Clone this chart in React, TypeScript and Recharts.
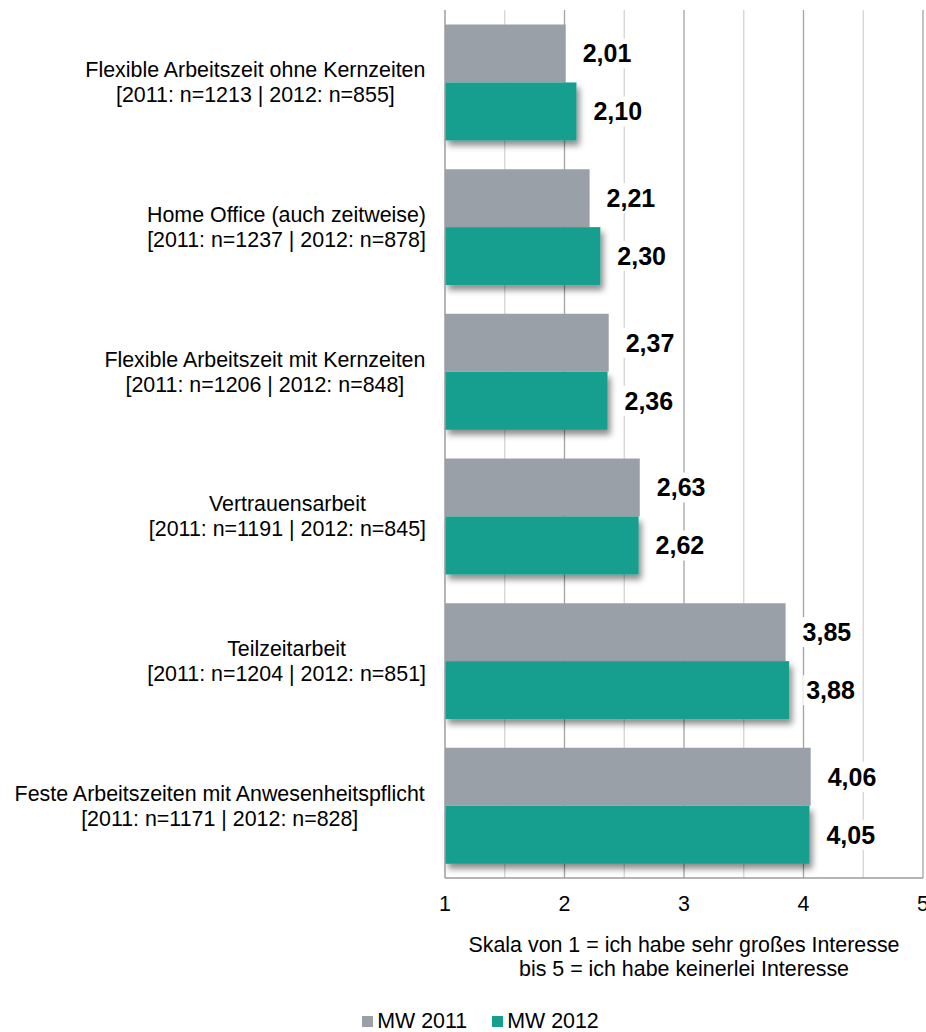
import React from 'react';
import { BarChart, Bar, XAxis, YAxis, CartesianGrid, Legend, LabelList } from 'recharts';

const categories = [
  'Flexible Arbeitszeit ohne Kernzeiten',
  'Home Office (auch zeitweise)',
  'Flexible Arbeitszeit mit Kernzeiten',
  'Vertrauensarbeit',
  'Teilzeitarbeit',
  'Feste Arbeitszeiten mit Anwesenheitspflicht',
];
const sampleSizes = [
  '[2011: n=1213 | 2012: n=855]',
  '[2011: n=1237 | 2012: n=878]',
  '[2011: n=1206 | 2012: n=848]',
  '[2011: n=1191 | 2012: n=845]',
  '[2011: n=1204 | 2012: n=851]',
  '[2011: n=1171 | 2012: n=828]',
];
const mw2011 = [2.01, 2.21, 2.37, 2.63, 3.85, 4.06];
const mw2012 = [2.1, 2.3, 2.36, 2.62, 3.88, 4.05];
const xTicks = [1, 2, 3, 4, 5];
const majorGrid = [2, 3, 4, 5];
const minorGrid = [1.5, 2.5, 3.5, 4.5];
const axisTitle = ['Skala von 1 = ich habe sehr großes Interesse', 'bis 5 = ich habe keinerlei Interesse'];
const seriesNames = ['MW 2011', 'MW 2012'];

const GRAY = '#9aa0a7';
const TEAL = '#169e8e';
const FONT = "'Liberation Sans', Arial, sans-serif";
const FS = 21.4;

const data = categories.map((name, i) => ({
  name,
  n: sampleSizes[i],
  mw2011: mw2011[i],
  mw2012: mw2012[i],
}));

let ctx: CanvasRenderingContext2D | null = null;
function textWidth(s: string, font: string) {
  if (!ctx) ctx = document.createElement('canvas').getContext('2d');
  if (!ctx) return s.length * 10;
  ctx.font = font;
  return ctx.measureText(s).width;
}

const fmt = (v: number) => v.toFixed(2).replace('.', ',');

function CategoryTick(props: any) {
  const { x, y, payload } = props;
  const row = data.find((d) => d.name === payload.value);
  const lines = [payload.value, row ? row.n : ''];
  const font = `${FS}px ${FONT}`;
  const w = Math.max(...lines.map((l) => textWidth(l, font)));
  const cx = x - 19 - w / 2;
  return (
    <text x={cx} y={y} textAnchor="middle" fontFamily={FONT} fontSize={FS} fill="#000">
      <tspan x={cx} y={y - 5}>{lines[0]}</tspan>
      <tspan x={cx} y={y + 20}>{lines[1]}</tspan>
    </text>
  );
}

function NumberTick(props: any) {
  const { x, y, payload } = props;
  return (
    <text x={x} y={y + 33} textAnchor="middle" fontFamily={FONT} fontSize={FS} fill="#000">
      {payload.value}
    </text>
  );
}

function AxisTitle(props: any) {
  const { viewBox } = props;
  const cx = viewBox.x + viewBox.width / 2;
  return (
    <text textAnchor="middle" fontFamily={FONT} fontSize={FS} fill="#000">
      <tspan x={cx} y={viewBox.y + 74}>{axisTitle[0]}</tspan>
      <tspan x={cx} y={viewBox.y + 98}>{axisTitle[1]}</tspan>
    </text>
  );
}

function ValueLabel(props: any) {
  const { x, y, width, height, value } = props;
  const tx = x + width + 17;
  const cy = y + height / 2;
  const s = fmt(value);
  const w = textWidth(s, `bold 25px ${FONT}`);
  return (
    <g>
      <rect x={tx - 3} y={cy - 15} width={w + 6} height={30} fill="#fff" />
      <text x={tx} y={cy + 9} fontFamily={FONT} fontSize={25} fontWeight="bold" fill="#000">
        {s}
      </text>
    </g>
  );
}

function ShadowBar(props: any) {
  const { x, y, width, height, fill } = props;
  return <rect x={x} y={y} width={width} height={height} fill={fill} filter="url(#barShadow)" />;
}

function LegendContent() {
  const colors = [GRAY, TEAL];
  return (
    <div
      style={{
        display: 'flex',
        justifyContent: 'center',
        paddingLeft: 38,
        paddingTop: 18,
        height: 40,
        boxSizing: 'border-box',
        fontFamily: FONT,
        fontSize: FS,
        lineHeight: '22px',
        color: '#000',
      }}
    >
      {seriesNames.map((n, i) => (
        <div key={n} style={{ display: 'flex', alignItems: 'center', marginRight: i === 0 ? 25 : 0 }}>
          <span style={{ width: 11, height: 11, background: colors[i], marginRight: 4, display: 'inline-block' }} />
          <span>{n}</span>
        </div>
      ))}
    </div>
  );
}

export default function App() {
  return (
    <div style={{ position: 'absolute', left: 0, top: 0, width: 926, height: 1032, background: '#fff' }}>
      <BarChart
        width={926}
        height={1032}
        data={data}
        layout="vertical"
        margin={{ top: 10, right: 3, left: 0, bottom: 0 }}
        barCategoryGap="10%"
        barGap={0}
      >
        <defs>
          <filter id="barShadow" x="-10%" y="-20%" width="130%" height="160%">
            <feDropShadow dx={3} dy={5} stdDeviation={3} floodColor="#000" floodOpacity={0.45} />
          </filter>
        </defs>
        <CartesianGrid horizontal={false} vertical verticalValues={minorGrid} stroke="#d4d4d4" strokeWidth={1.3} />
        <CartesianGrid horizontal={false} vertical verticalValues={majorGrid} stroke="#a3a3a3" strokeWidth={1.3} />
        <XAxis
          type="number"
          domain={[1, 5]}
          ticks={xTicks}
          height={114}
          tickLine={false}
          tickSize={0}
          tickMargin={0}
          axisLine={{ stroke: '#9c9c9c', strokeWidth: 1.5 }}
          tick={<NumberTick />}
          label={<AxisTitle />}
          interval={0}
        />
        <YAxis
          type="category"
          dataKey="name"
          width={445}
          tickLine={false}
          tickSize={0}
          tickMargin={0}
          axisLine={{ stroke: '#9c9c9c', strokeWidth: 1.5 }}
          tick={<CategoryTick />}
          interval={0}
        />
        <Legend verticalAlign="bottom" height={40} content={<LegendContent />} />
        <Bar dataKey="mw2011" name={seriesNames[0]} fill={GRAY} isAnimationActive={false}>
          <LabelList dataKey="mw2011" content={<ValueLabel />} />
        </Bar>
        <Bar dataKey="mw2012" name={seriesNames[1]} fill={TEAL} shape={<ShadowBar />} isAnimationActive={false}>
          <LabelList dataKey="mw2012" content={<ValueLabel />} />
        </Bar>
      </BarChart>
    </div>
  );
}
